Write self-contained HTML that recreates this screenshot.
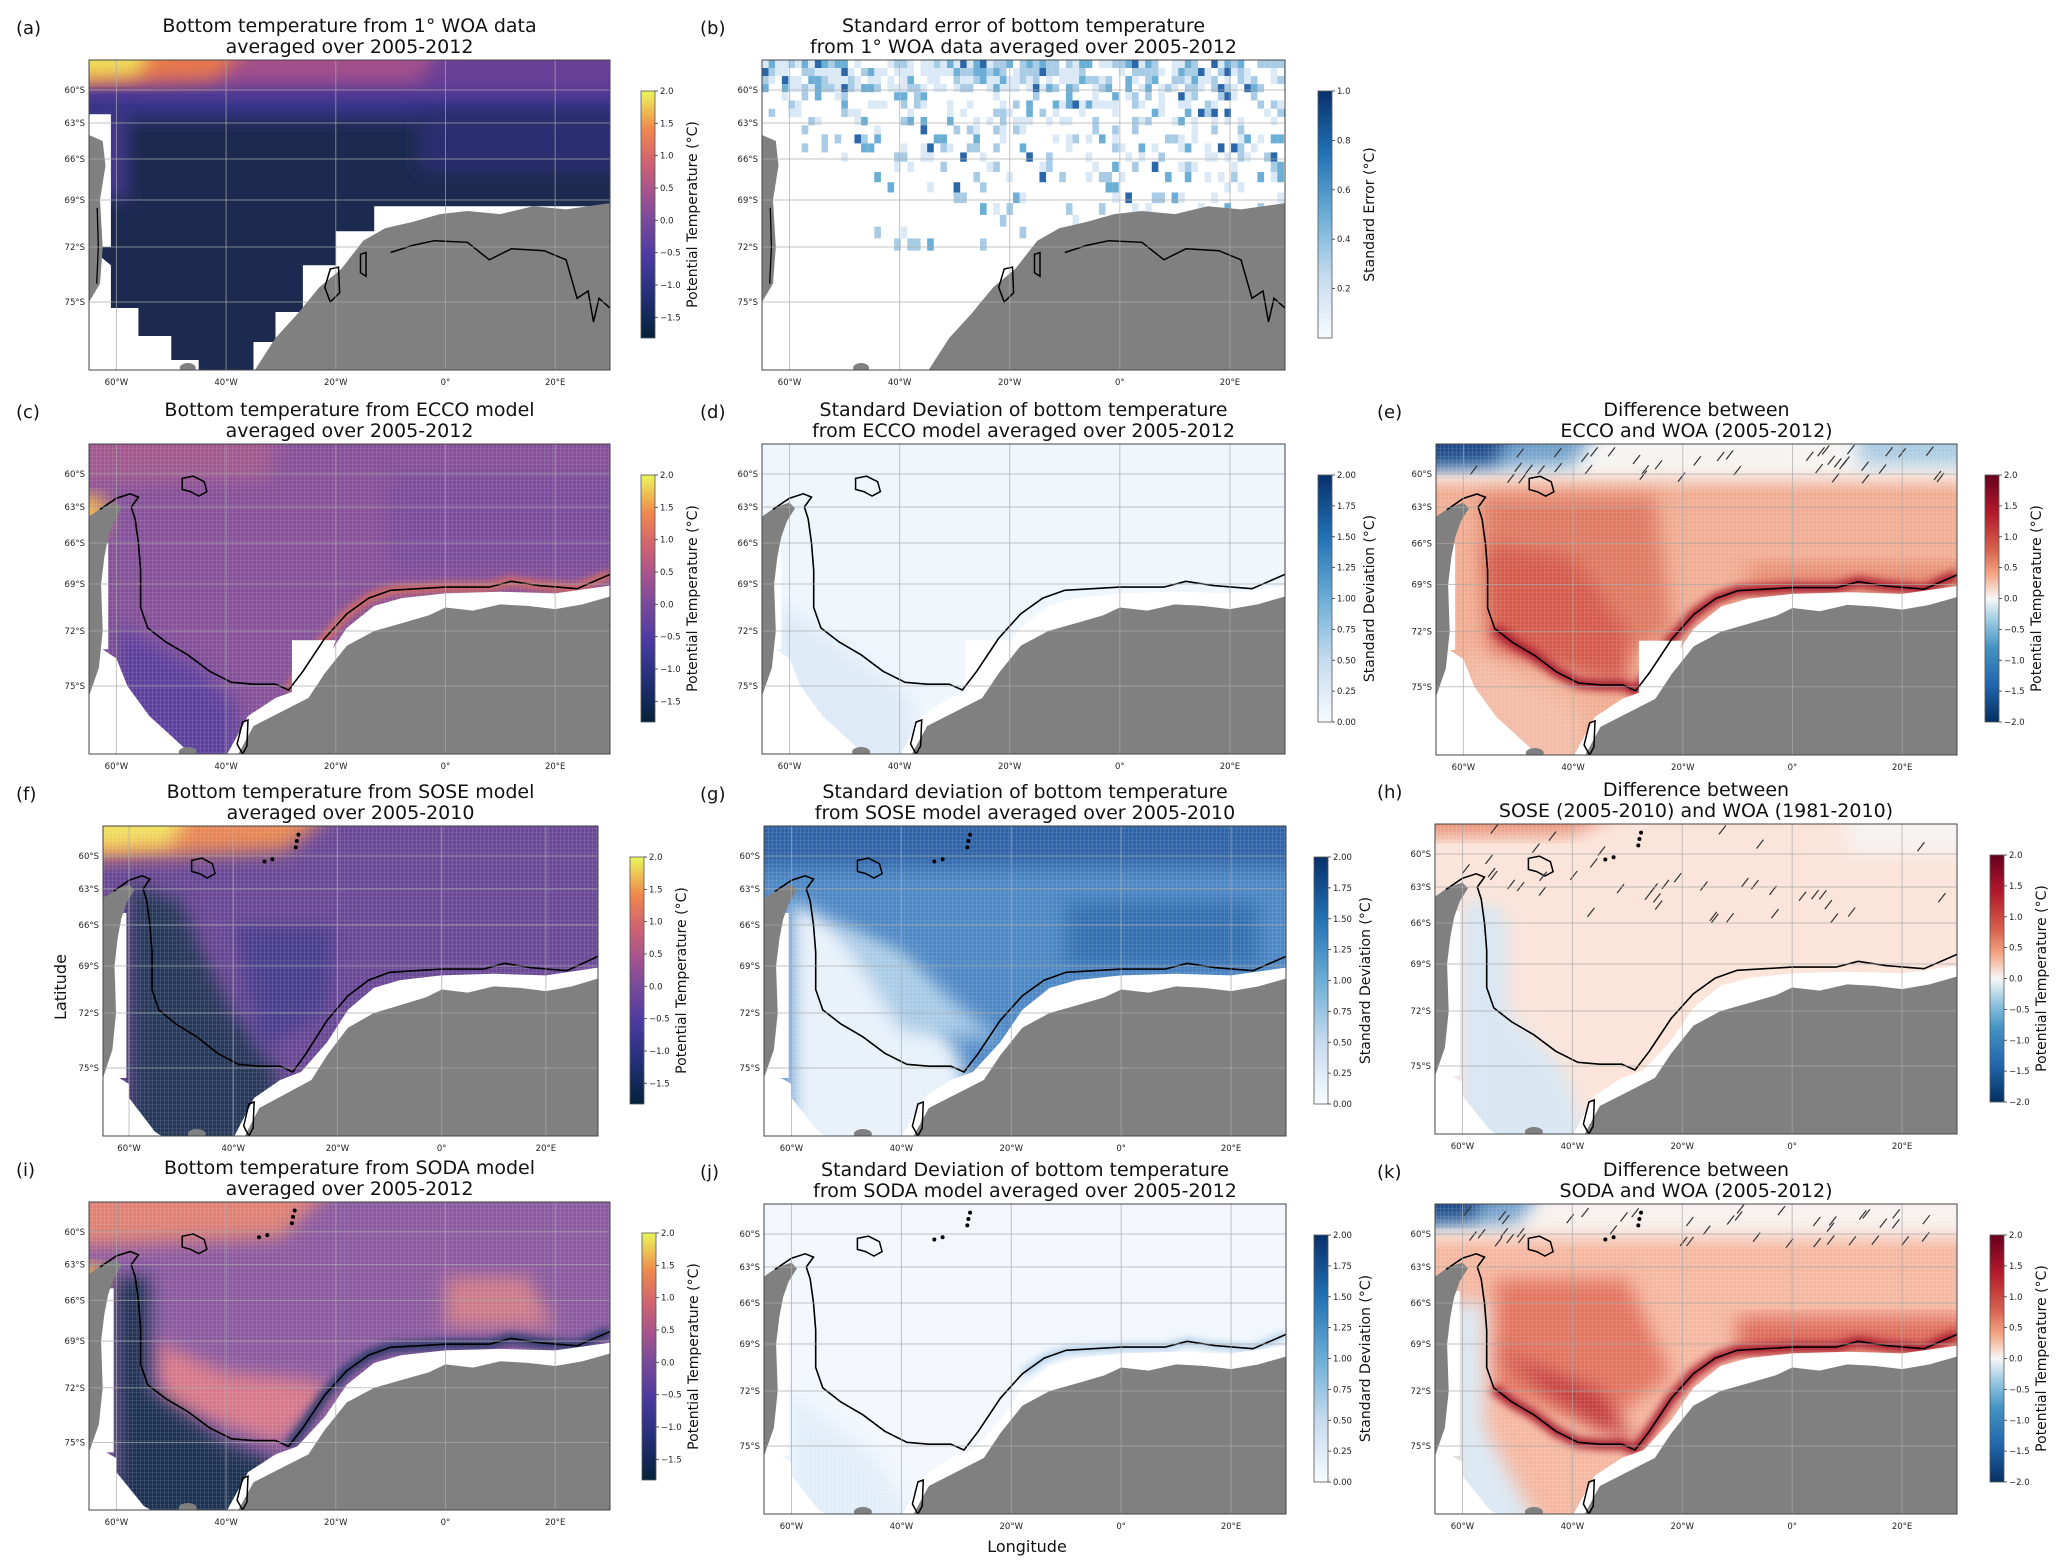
<!DOCTYPE html>
<html><head><meta charset="utf-8">
<style>
html,body{margin:0;padding:0;background:#fff;}
svg{display:block;}
text{font-family:"DejaVu Sans","Liberation Sans",sans-serif;}
</style></head>
<body>
<svg id="fig" xmlns="http://www.w3.org/2000/svg" width="2067" height="1567" viewBox="0 0 2067 1567">
<defs>
<filter id="bl" x="-20%" y="-20%" width="140%" height="140%"><feGaussianBlur stdDeviation="9"/></filter>
<filter id="bl2" x="-20%" y="-20%" width="140%" height="140%"><feGaussianBlur stdDeviation="4"/></filter>
<linearGradient id="g-thermal" x1="0" y1="1" x2="0" y2="0">
<stop offset="0" stop-color="#04223a"/><stop offset="0.18" stop-color="#25307a"/><stop offset="0.33" stop-color="#4b3aa0"/><stop offset="0.48" stop-color="#7a4a9a"/><stop offset="0.6" stop-color="#a8548c"/><stop offset="0.72" stop-color="#d2646f"/><stop offset="0.85" stop-color="#f08a4c"/><stop offset="1" stop-color="#eaf65c"/></linearGradient>
<linearGradient id="g-blues" x1="0" y1="1" x2="0" y2="0">
<stop offset="0" stop-color="#f7fbff"/><stop offset="0.25" stop-color="#c6dbef"/><stop offset="0.5" stop-color="#6baed6"/><stop offset="0.75" stop-color="#2171b5"/><stop offset="1" stop-color="#08306b"/></linearGradient>
<linearGradient id="g-rdbu" x1="0" y1="1" x2="0" y2="0">
<stop offset="0" stop-color="#053061"/><stop offset="0.15" stop-color="#2166ac"/><stop offset="0.3" stop-color="#4393c3"/><stop offset="0.4" stop-color="#92c5de"/><stop offset="0.5" stop-color="#f7f7f7"/><stop offset="0.6" stop-color="#f4a582"/><stop offset="0.7" stop-color="#d6604d"/><stop offset="0.85" stop-color="#b2182b"/><stop offset="1" stop-color="#67001f"/></linearGradient>
<pattern id="hatch-grid" width="4" height="4" patternUnits="userSpaceOnUse"><path d="M0 0H4M0 0V4" stroke="#fff" stroke-width="0.6" opacity="0.35"/></pattern>
</defs>
</svg>
<script>
const NS='http://www.w3.org/2000/svg';
const svg=document.getElementById('fig');

// ---- axis data ----
const LON_TICKS=[-60,-40,-20,0,20];
const LON_LABELS=['60°W','40°W','20°W','0°','20°E'];
const LAT_TICKS=[-60,-63,-66,-69,-72,-75];
const LAT_LABELS=['60°S','63°S','66°S','69°S','72°S','75°S'];
const LAT_KNOTS=[-57.2,-60,-63,-66,-69,-72,-75,-78.4];
const LAT_FRAC=[0,30,63,99,140,187,242,310];
const LON_MIN=-65, LON_MAX=30;
// colorbar data
const CB_THERMAL_TICKS=[-1.5,-1.0,-0.5,0.0,0.5,1.0,1.5,2.0];
const CB_THERMAL_RANGE=[-1.82,2.0];
const CB_SE_TICKS=[0.2,0.4,0.6,0.8,1.0];
const CB_SE_RANGE=[0,1.0];
const CB_SD_TICKS=[0.00,0.25,0.50,0.75,1.00,1.25,1.50,1.75,2.00];
const CB_SD_RANGE=[0,2.0];
const CB_RDBU_TICKS=[-2.0,-1.5,-1.0,-0.5,0.0,0.5,1.0,1.5,2.0];
const CB_RDBU_RANGE=[-2.0,2.0];

function mk(tag,attrs,parent){const e=document.createElementNS(NS,tag);for(const k in attrs)e.setAttribute(k,attrs[k]);(parent||svg).appendChild(e);return e;}
function latFrac(lat){for(let i=0;i<LAT_KNOTS.length-1;i++){const a=LAT_KNOTS[i],b=LAT_KNOTS[i+1];if(lat<=a&&lat>=b){return LAT_FRAC[i]+(a-lat)/(a-b)*(LAT_FRAC[i+1]-LAT_FRAC[i]);}}return lat>LAT_KNOTS[0]?-(lat-LAT_KNOTS[0])*11:310+(LAT_KNOTS[7]-lat)*22;}

const PANELS=[
 {k:'a',L:89,T:60,W:521,H:310,cb:'thermal',cbx:641,lx:16,t:['Bottom temperature from 1° WOA data','averaged over 2005-2012'],land:'woa'},
 {k:'b',L:762,T:60,W:523,H:310,cb:'se',cbx:1318,lx:700,t:['Standard error of bottom temperature','from 1° WOA data averaged over 2005-2012'],land:'woa'},
 {k:'c',L:89,T:444,W:521,H:310,cb:'thermal',cbx:641,lx:16,t:['Bottom temperature from ECCO model','averaged over 2005-2012'],land:'ecco'},
 {k:'d',L:762,T:444,W:523,H:310,cb:'sd',cbx:1318,lx:700,t:['Standard Deviation of bottom temperature','from ECCO model averaged over 2005-2012'],land:'ecco'},
 {k:'e',L:1436,T:444,W:521,H:311,cb:'rdbu',cbx:1985,lx:1377,t:['Difference between','ECCO and WOA (2005-2012)'],land:'ecco'},
 {k:'f',L:103,T:826,W:495,H:310,cb:'thermal',cbx:630,lx:16,t:['Bottom temperature from SOSE model','averaged over 2005-2010'],land:'model'},
 {k:'g',L:764,T:826,W:522,H:310,cb:'sd',cbx:1314,lx:700,t:['Standard deviation of bottom temperature','from SOSE model averaged over 2005-2010'],land:'model'},
 {k:'h',L:1435,T:824,W:522,H:310,cb:'rdbu',cbx:1990,lx:1377,t:['Difference between','SOSE (2005-2010) and WOA (1981-2010)'],land:'model'},
 {k:'i',L:89,T:1202,W:521,H:308,cb:'thermal',cbx:642,lx:16,t:['Bottom temperature from SODA model','averaged over 2005-2012'],land:'model'},
 {k:'j',L:764,T:1204,W:522,H:310,cb:'sd',cbx:1314,lx:700,t:['Standard Deviation of bottom temperature','from SODA model averaged over 2005-2012'],land:'model'},
 {k:'k',L:1435,T:1204,W:522,H:310,cb:'rdbu',cbx:1990,lx:1377,t:['Difference between','SODA and WOA (2005-2012)'],land:'model'}
];

// shared geography (lon,lat)
const ANT_MODEL=[[-38,-78.5],[-35,-77],[-30,-76.3],[-25,-75.6],[-22,-74.3],[-18,-72.8],[-13,-72],[-8,-71.5],[-3,-71],[0,-70.5],[5,-70.7],[10,-70.3],[15,-70.4],[20,-70.6],[25,-70.3],[30,-69.8],[30,-78.5]];
const SHELF_MODEL=[[-40,-78.5],[-36,-76.5],[-31,-75.6],[-27,-75.2],[-22,-73.6],[-18,-71.8],[-13,-70.4],[-8,-69.9],[0,-69.6],[10,-69.5],[20,-69.6],[30,-69.1],[30,-78.5]];
const PEN=[[-65,-63.8],[-62.5,-63],[-60,-62.6],[-59,-63.1],[-60.5,-64.2],[-61.5,-65.5],[-62.2,-67],[-62.8,-69],[-62.5,-72],[-63.2,-74],[-65,-75.5]];
const CONT=[[-63,-63.2],[-60,-62.2],[-57.5,-61.8],[-56,-62.1],[-57.3,-63],[-56.6,-64],[-56,-66],[-55.6,-68],[-55.6,-70.5],[-54.3,-71.8],[-51,-72.6],[-47,-73.3],[-43,-74.2],[-39,-74.8],[-35,-74.9],[-31,-74.9],[-28.6,-75.2],[-26,-74.2],[-22,-72.4],[-18,-70.9],[-14,-69.9],[-10,-69.4],[-5,-69.3],[0,-69.2],[8,-69.2],[12,-68.8],[17,-69.1],[24,-69.3],[30,-68.3]];
const ISLAND=[[-48,-60.4],[-46,-60.2],[-44,-60.7],[-43.5,-61.6],[-45,-62],[-46.5,-61.6],[-48,-61.4]];
const BERG=[[-38,-77.9],[-37,-76.8],[-36,-76.7],[-36.2,-78],[-37,-78.4]];
const ANT_WOA=[[-35,-78.5],[-31,-76.8],[-27,-75.6],[-23,-74.2],[-19,-73.2],[-15,-71.6],[-11,-70.8],[-6,-70.4],[-1,-69.9],[4,-69.7],[10,-69.9],[16,-69.4],[22,-69.6],[30,-69.2],[30,-78.5]];
const PEN_WOA=[[-65,-64],[-62.5,-64.5],[-62,-66.5],[-63,-69],[-62.5,-72],[-63,-74],[-65,-75]];
const WOA_CONT=[[-10,-72.3],[-6,-71.9],[-2,-71.6],[4,-71.7],[8,-72.7],[12,-72.1],[18,-72.2],[22,-72.7],[24,-74.8],[26,-74.4],[27,-76],[28,-74.8],[30,-75.3]];
const WOA_LOOP1=[[-21,-73.2],[-19.5,-73.1],[-19.3,-74.5],[-21,-75],[-22,-74.2]];
const WOA_LOOP2=[[-15.5,-72.4],[-14.5,-72.3],[-14.5,-73.6],[-15.5,-73.4]];

// field layers: [color, polygon(lon,lat), blur?]
const FIELD={
 a:{base:'#1b2a4e',layers:[
  ['#3a3590',[[-65,-57],[30,-57],[30,-62.5],[-65,-62.5]],1],
  ['#6a4096',[[-65,-57],[30,-57],[30,-60.3],[-65,-60.3]],1],
  ['#a3508c',[[-65,-57],[0,-57],[-5,-59.3],[-65,-59.3]],1],
  ['#e8784c',[[-65,-57],[-35,-57],[-42,-59],[-65,-59.5]],1],
  ['#eedf5a',[[-65,-57],[-53,-57],[-56,-58.6],[-65,-59]],1],
  ['#45378f',[[-65,-62],[-58,-62],[-58,-69],[-65,-69]],1],
  ['#2a2f70',[[-5,-62],[30,-62],[30,-67],[-5,-67]],1]]},
 b:{base:'#ffffff',layers:[]},
 c:{base:'#86509a',layers:[
  ['#a2588f',[[-65,-57],[-30,-57],[-32,-60.5],[-65,-61]],1],
  ['#5c419e',[[-60,-71.5],[-45,-74],[-38,-76],[-38,-78.5],[-60,-78.5]],1],
  ['#7a4c9c',[[-10,-60],[30,-60],[30,-68],[-10,-68]],1],
  ['#f5b545',[[-65,-62],[-62,-62],[-62,-65],[-65,-65.5]],1]]},
 d:{base:'#eff6fc',layers:[['#dde9f6',[[-62,-70],[-50,-73],[-38,-75.5],[-36,-78.5],[-62,-78.5]],1]]},
 e:{base:'#f2ad92',layers:[
  ['#f6f4f3',[[-65,-57],[30,-57],[30,-60.6],[-65,-60.6]],1],
  ['#6d9fcb',[[-65,-57],[-35,-57],[-40,-59.2],[-65,-59.6]],1],
  ['#1d4a8a',[[-65,-57.2],[-52,-57.2],[-54,-59],[-65,-59.2]],1],
  ['#a8cae2',[[12,-57],[30,-57],[30,-59.2],[12,-59.2]],1],
  ['#e07a62',[[-57,-62],[-25,-62],[-22,-72],[-35,-74],[-55,-72]],1],
  ['#d75a4c',[[-56,-66],[-40,-67],[-30,-72],[-30,-75],[-55,-73]],1],
  ['#e98a70',[[-8,-67.5],[30,-67.5],[30,-69.5],[-8,-69.5]],1],
  ['#f4bba6',[[-60,-73],[-45,-75],[-38,-76],[-38,-78.5],[-60,-78.5]],1]]},
 f:{base:'#6b4897',layers:[
  ['#e98653',[[-65,-57],[-20,-57],[-30,-59.5],[-65,-60.5]],1],
  ['#f1df5b',[[-65,-57],[-48,-57],[-52,-59],[-65,-59.5]],1],
  ['#26385a',[[-60,-62.5],[-50,-64],[-46,-68],[-40,-72],[-32,-75],[-30,-78.5],[-60,-78.5]],1],
  ['#4a3c8e',[[-40,-66],[-20,-66],[-22,-72],[-35,-74]],1]]},
 g:{base:'#4d88c6',layers:[
  ['#2f63a9',[[-65,-57],[30,-57],[30,-61],[-65,-61]],1],
  ['#3370b2',[[-10,-64],[25,-64],[25,-69],[-10,-69]],1],
  ['#e8f1fa',[[-60,-64],[-52,-66],[-40,-69],[-30,-74],[-24,-78.5],[-60,-78.5]],1],
  ['#a9cbe7',[[-52,-66],[-40,-68],[-28,-72],[-22,-73.5],[-40,-73]],1]]},
 h:{base:'#fbe3d8',layers:[
  ['#e98f74',[[-65,-57],[-30,-57],[-40,-58.2],[-65,-58.4]],1],
  ['#d6e6f3',[[-60,-64],[-52,-65],[-52,-72],[-42,-75],[-36,-78.5],[-60,-78.5]],1],
  ['#f6f2f2',[[10,-57],[30,-57],[30,-60],[10,-60]],1]]},
 i:{base:'#8c5aa1',layers:[
  ['#e08075',[[-65,-57],[-20,-57],[-30,-60.5],[-65,-61.5]],1],
  ['#d9788a',[[-53,-69],[-40,-71],[-25,-71.5],[-20,-72],[-30,-75],[-52,-73]],1],
  ['#cf7a8a',[[0,-64],[15,-64],[20,-68],[0,-68]],1],
  ['#1f3352',[[-60,-64],[-54,-64],[-54,-72],[-40,-75],[-30,-76],[-35,-78.5],[-60,-78.5]],1],
  ['#f2b040',[[-65,-63],[-62.5,-63],[-62.5,-65],[-65,-65.5]],1]]},
 j:{base:'#f2f7fd',layers:[['#e1edf8',[[-60,-72],[-45,-75.5],[-36,-78.5],[-60,-78.5]],1]]},
 k:{base:'#f6b7a0',layers:[
  ['#f7f1ee',[[-65,-57],[30,-57],[30,-60.3],[-65,-60.3]],1],
  ['#6f9fca',[[-65,-57],[-45,-57],[-50,-59],[-65,-59.4]],1],
  ['#1f4a8a',[[-65,-57.2],[-56,-57.2],[-58,-58.6],[-65,-58.8]],1],
  ['#e4755e',[[-54,-64],[-30,-64],[-22,-71],[-35,-74],[-54,-72]],1],
  ['#c43a3c',[[-55,-69],[-45,-72],[-35,-74],[-28,-75],[-35,-72],[-50,-70]],1],
  ['#e06a58',[[-10,-67],[30,-67],[30,-69.5],[-10,-69.5]],1],
  ['#dbe8f3',[[-62,-66],[-56,-66],[-56,-74],[-45,-78.5],[-62,-78.5]],1]]}
};

// seeded rng for cosmetic texture
let seed=12345;function rnd(){seed=(seed*1103515245+12345)%2147483648;return seed/2147483648;}

function cbInfo(t){
 if(t==='thermal')return{g:'g-thermal',ticks:CB_THERMAL_TICKS,r:CB_THERMAL_RANGE,lab:'Potential Temperature (°C)',fmt:v=>v.toFixed(1).replace('-','−')};
 if(t==='se')return{g:'g-blues',ticks:CB_SE_TICKS,r:CB_SE_RANGE,lab:'Standard Error (°C)',fmt:v=>v.toFixed(1)};
 if(t==='sd')return{g:'g-blues',ticks:CB_SD_TICKS,r:CB_SD_RANGE,lab:'Standard Deviation (°C)',fmt:v=>v.toFixed(2)};
 return{g:'g-rdbu',ticks:CB_RDBU_TICKS,r:CB_RDBU_RANGE,lab:'Potential Temperature (°C)',fmt:v=>v.toFixed(1).replace('-','−')};
}
// push border points of blurred layers outside the map so edges stay solid
function expand(a){return a.map(q=>[q[0]<=-64.9?-75:(q[0]>=29.9?40:q[0]), q[1]>=-57.3?-55.5:(q[1]<=-78.4?-79.5:q[1])]);}

PANELS.forEach(p=>{
 const X=lon=>p.L+(lon-LON_MIN)/(LON_MAX-LON_MIN)*p.W;
 const Y=lat=>p.T+latFrac(lat)*p.H/310;
 const pts=a=>a.map(q=>X(q[0]).toFixed(1)+','+Y(q[1]).toFixed(1)).join(' ');
 const g=mk('g',{});
 
 
 const cid='clip-'+p.k;
 const cp=mk('clipPath',{id:cid},g);mk('rect',{x:p.L,y:p.T,width:p.W,height:p.H},cp);
 const m=mk('g',{'clip-path':'url(#'+cid+')'},g);
 
 
 const F=FIELD[p.k];
 mk('rect',{x:p.L,y:p.T,width:p.W,height:p.H,fill:F.base},m);
 F.layers.forEach(l=>{const e=mk('polygon',{points:pts(expand(l[1])),fill:l[0],filter:l[2]?'url(#bl)':''},m);
  
  });
 if(p.k==='b'){
  for(let lon=-65;lon<30;lon+=1.2){for(let lat=-57.2;lat>-72;lat-=0.75){
   const dens=lat>-60?0.75:lat>-63?0.4:lat>-67?0.3:0.15;
   if(lon<-58&&lat<-62)continue;
   if(lon<-45&&lat<-66)continue;
   if(rnd()<dens){const v=rnd();const c=v>0.93?'#2a66a8':v>0.75?'#6baed6':v>0.45?'#a9cce6':'#dbe9f6';
    const e=mk('rect',{x:X(lon),y:Y(lat),width:X(lon+1.2)-X(lon),height:Y(lat-0.75)-Y(lat),fill:c},m);
    
    }}}
 }
 if(p.k!=='b'&&p.k!=='a'){mk('rect',{x:p.L,y:p.T,width:p.W,height:p.H,fill:'url(#hatch-grid)'},m);}
 // coastal strips
 if(p.k==='c'){mk('polyline',{points:pts(CONT.slice(16)),fill:'none',stroke:'#e0705a',"stroke-width":8,filter:'url(#bl2)'},m);}
 if(p.k==='e'||p.k==='k'){mk('polyline',{points:pts(CONT.slice(9)),fill:'none',stroke:'#a81c2e',"stroke-width":10,filter:'url(#bl2)'},m);}
 if(p.k==='i'){mk('polyline',{points:pts(CONT.slice(16)),fill:'none',stroke:'#2a3a6a',"stroke-width":10,filter:'url(#bl2)'},m);}
 if(p.k==='j'){mk('polyline',{points:pts(CONT.slice(19)),fill:'none',stroke:'#7aaedb',"stroke-width":4,filter:'url(#bl2)'},m);}
 // no data + land
 const white=(a)=>{const e=mk('polygon',{points:pts(a),fill:'#ffffff'},m);
  
  };
 const land=(a)=>{const e=mk('polygon',{points:pts(a),fill:'#808080'},m);
  
  };
 if(p.land==='woa'){
  if(p.k==='a'){
   white([[-13,-69.4],[30,-69.4],[30,-78.5],[-35,-78.5],[-35,-77],[-31,-77],[-31,-75.5],[-26,-75.5],[-26,-73],[-20,-73],[-20,-71],[-13,-71]]);
   white([[-65,-72],[-61,-73],[-61,-75.3],[-56,-75.3],[-56,-76.7],[-50,-76.7],[-50,-77.9],[-45,-77.9],[-45,-78.5],[-65,-78.5]]);
   white([[-65,-62.2],[-61,-62.2],[-61,-72],[-65,-72]]);
  }
  land(ANT_WOA);land(PEN_WOA);
  mk('ellipse',{cx:X(-47),cy:Y(-78.3),rx:8,ry:5,fill:'#808080'},m);
  [WOA_CONT].forEach(c=>mk('polyline',{points:pts(c),fill:'none',stroke:'#000','stroke-width':1.5},m));
  [WOA_LOOP1,WOA_LOOP2].forEach(c=>mk('polygon',{points:pts(c),fill:'none',stroke:'#000','stroke-width':1.5},m));
  mk('polyline',{points:pts([[-63.5,-69.5],[-63.3,-72],[-63.6,-74]]),fill:'none',stroke:'#000','stroke-width':1.3},m);
 } else {
  white(SHELF_MODEL);
  if(p.land==='ecco'){
   white([[-65,-72.5],[-60,-73.5],[-58,-75],[-54,-76.5],[-50,-77.5],[-46,-78.5],[-65,-78.5]]);
   white([[-65,-66],[-61.5,-66],[-61.5,-73],[-65,-73]]);
   white([[-36,-78.5],[-33,-76.5],[-30,-76.5],[-26,-76.3],[-22,-74.2],[-20,-72.5],[-28,-72.5],[-28,-75.5],[-33,-76]]);
  } else {
   white([[-65,-75],[-60,-75.8],[-60,-76.5],[-55,-78.2],[-53,-78.5],[-65,-78.5]]);
   white([[-65,-65],[-60.5,-65],[-60.5,-75.5],[-65,-75.5]]);
  }
  land(ANT_MODEL);land(PEN);
  mk('ellipse',{cx:X(-47),cy:Y(-78.3),rx:9,ry:5,fill:'#808080'},m);
  const c1=mk('polyline',{points:pts(CONT),fill:'none',stroke:'#000','stroke-width':1.6},m);
  
  
  mk('polygon',{points:pts(ISLAND),fill:'none',stroke:'#000','stroke-width':1.5},m);
  mk('polygon',{points:pts(BERG),fill:'none',stroke:'#000','stroke-width':1.5},m);
  if(p.land==='model'){[[-34,-60.5],[-32.5,-60.3],[-28,-59.2],[-27.8,-58.6],[-27.5,-58]].forEach(q=>mk('circle',{cx:X(q[0]),cy:Y(q[1]),r:2,fill:'#000'},m));}
 }
 // hatching
 if(p.k==='e'||p.k==='h'||p.k==='k'){
  for(let i=0;i<40;i++){const lon=-60+rnd()*88;const lat=-57.5-rnd()*(p.k==='h'?8:3.2);
   if(p.k!=='h'&&lat<-61)continue;
   const x=X(lon),y=Y(lat);
   const e=mk('line',{x1:x,y1:y+6,x2:x+7,y2:y-3,stroke:'#333','stroke-width':1.2},m);
   
   }
 }
 // gridlines
 LON_TICKS.forEach((v,i)=>{const e=mk('line',{x1:X(v),x2:X(v),y1:p.T,y2:p.T+p.H,stroke:'#aaa','stroke-width':1,opacity:0.7},m);
  
  
  const t=mk('text',{x:X(v),y:p.T+p.H+15,'font-size':8.5,'text-anchor':'middle',fill:'#222'},g);t.textContent=LON_LABELS[i];
  
  });
 LAT_TICKS.forEach((v,i)=>{const e=mk('line',{x1:p.L,x2:p.L+p.W,y1:Y(v),y2:Y(v),stroke:'#aaa','stroke-width':1,opacity:0.7},m);
  
  
  const t=mk('text',{x:p.L-4,y:Y(v)+3,'font-size':8.5,'text-anchor':'end',fill:'#222'},g);t.textContent=LAT_LABELS[i];
  
  });
 const fr=mk('rect',{x:p.L,y:p.T,width:p.W,height:p.H,fill:'none',stroke:'#444','stroke-width':1},g);
 
 
 // title
 const cx=p.L+p.W/2;
 p.t.forEach((s,i)=>{const t=mk('text',{x:cx,y:p.T-28+i*21,'font-size':19,'text-anchor':'middle',fill:'#111'},g);t.textContent=s;
  
  });
 const lt=mk('text',{x:p.lx,y:p.T-26,'font-size':18,fill:'#111','font-family':'Liberation Sans, sans-serif'},g);lt.textContent='('+p.k+')';
 
 
 // colorbar
 const cb=cbInfo(p.cb);const cy=p.T+31,ch=247,cw=14;
 const cr=mk('rect',{x:p.cbx,y:cy,width:cw,height:ch,fill:'url(#'+cb.g+')',stroke:'#555','stroke-width':0.8},g);
 
 
 cb.ticks.forEach(v=>{const yy=cy+ch-(v-cb.r[0])/(cb.r[1]-cb.r[0])*ch;
  mk('line',{x1:p.cbx+cw,x2:p.cbx+cw+3,y1:yy,y2:yy,stroke:'#333','stroke-width':0.8},g);
  const t=mk('text',{x:p.cbx+cw+5,y:yy+3,'font-size':8.5,fill:'#222'},g);t.textContent=cb.fmt(v);
  
  });
 const lx=p.cbx+56,ly=cy+ch/2;
 const cl=mk('text',{x:lx,y:ly,'font-size':14,'text-anchor':'middle',transform:'rotate(-90 '+lx+' '+ly+')',fill:'#111'},g);cl.textContent=cb.lab;
 
 
});
const yl=mk('text',{x:66,y:987,'font-size':16,'text-anchor':'middle',transform:'rotate(-90 66 987)',fill:'#111'});yl.textContent='Latitude';


const xl=mk('text',{x:1027,y:1552,'font-size':16,'text-anchor':'middle',fill:'#111'});xl.textContent='Longitude';


</script>
</body></html>
